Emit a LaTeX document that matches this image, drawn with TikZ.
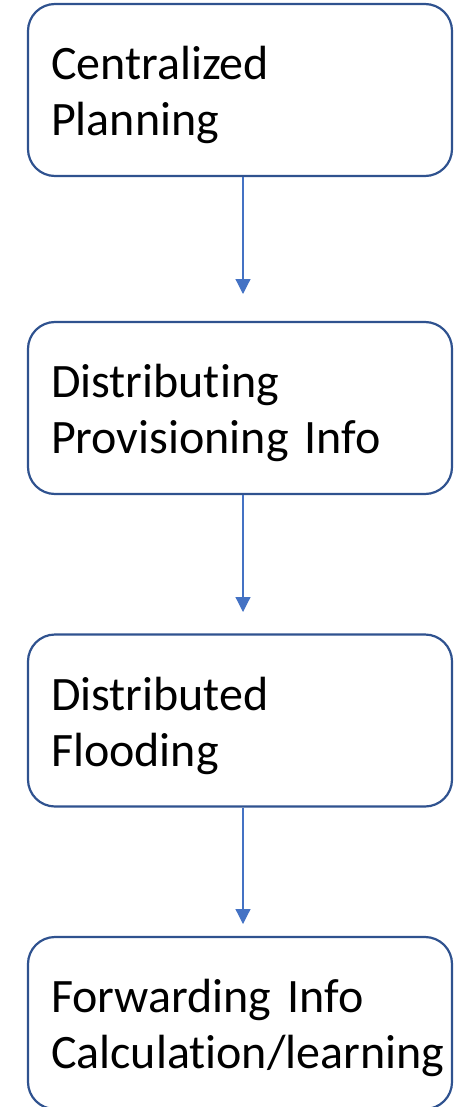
\documentclass[tikz,border=0pt]{standalone}
\usepackage{fontspec}
\setmainfont{Carlito}[Ligatures=NoCommon]
\usepackage{xcolor}
\usetikzlibrary{positioning, arrows.meta}
\definecolor{boxline}{HTML}{2F528F}
\definecolor{arrowblue}{HTML}{4472C4}
\hyphenpenalty=10000
\exhyphenpenalty=10000

\begin{document}
\begin{tikzpicture}[x=1pt, y=-1pt,
        stepbox/.style={rectangle, rounded corners=27pt, draw=boxline, line width=2.2pt,
            minimum width=424pt, minimum height=172pt, text width=378pt, align=left,
            inner xsep=0pt, text height=44pt, font=\fontsize{48}{56}\selectfont},
        flow/.style={draw=arrowblue, line width=1.2pt, -{Triangle[width=15pt, length=15pt]}}]
            \useasboundingbox (0,0) rectangle (465,1107);

            \node[stepbox] (plan) at (240, 90) {Centralized\\Planning};
            \node[stepbox] (prov) at (240, 408) {Distributing\\Provisioning Info};
            \node[stepbox] (flood) at (240, 720.5) {Distributed\\Flooding};
            \node[stepbox] (fwd) at (240, 1023) {Forwarding Info\\Calculation/learning};

            \coordinate (tip1) at (243, 294);
            \coordinate (tip2) at (243, 612);
            \coordinate (tip3) at (243, 924);

            \draw[flow] ([xshift=3pt]plan.south) -- (tip1);
            \draw[flow] ([xshift=3pt]prov.south) -- (tip2);
            \draw[flow] ([xshift=3pt]flood.south) -- (tip3);
        \end{tikzpicture}
\end{document}
